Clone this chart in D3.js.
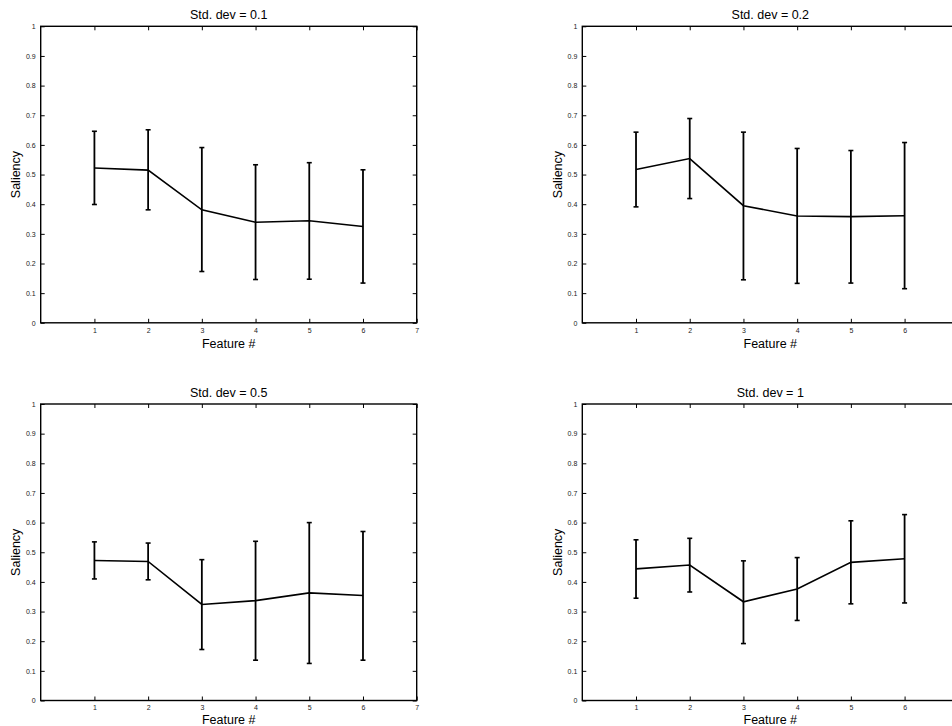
<!DOCTYPE html>
<html>
<head>
<meta charset="utf-8">
<script src="https://cdn.jsdelivr.net/npm/d3@7"></script>
<style>
  body { margin: 0; background: #fff; overflow: hidden; }
  svg { display: block; }
  text { font-family: "Liberation Sans", Arial, Helvetica, sans-serif; }
</style>
</head>
<body>
<div id="chart"></div>
<script>
// features on the x axis
var features = [1, 2, 3, 4, 5, 6];
var xTicks = [1, 2, 3, 4, 5, 6, 7];
var yTicks = [0, 0.1, 0.2, 0.3, 0.4, 0.5, 0.6, 0.7, 0.8, 0.9, 1];

var titles = ["Std. dev = 0.1", "Std. dev = 0.2", "Std. dev = 0.5", "Std. dev = 1"];

// mean saliency, upper and lower error bar ends, one array per panel
var mean01 = [0.522, 0.515, 0.381, 0.339, 0.344, 0.325];
var upper01 = [0.646, 0.651, 0.591, 0.533, 0.540, 0.516];
var lower01 = [0.399, 0.381, 0.173, 0.146, 0.147, 0.134];

var mean02 = [0.517, 0.554, 0.395, 0.360, 0.358, 0.361];
var upper02 = [0.643, 0.689, 0.643, 0.588, 0.581, 0.608];
var lower02 = [0.391, 0.419, 0.145, 0.133, 0.134, 0.115];

var mean05 = [0.472, 0.469, 0.324, 0.337, 0.363, 0.354];
var upper05 = [0.535, 0.531, 0.475, 0.537, 0.600, 0.570];
var lower05 = [0.410, 0.407, 0.172, 0.136, 0.125, 0.136];

var mean1 = [0.444, 0.457, 0.333, 0.376, 0.466, 0.478];
var upper1 = [0.542, 0.547, 0.471, 0.482, 0.606, 0.627];
var lower1 = [0.345, 0.366, 0.192, 0.270, 0.326, 0.329];

var panels = [
  { title: titles[0], mean: mean01, upper: upper01, lower: lower01, left: 40.7, top: 26.3, xlab: 25 },
  { title: titles[1], mean: mean02, upper: upper02, lower: lower02, left: 582.3, top: 26.3, xlab: 25 },
  { title: titles[2], mean: mean05, upper: upper05, lower: lower05, left: 40.7, top: 404, xlab: 23 },
  { title: titles[3], mean: mean1, upper: upper1, lower: lower1, left: 582.3, top: 404, xlab: 23 }
];

var W = 952, H = 726;
var pw = 376, ph = 296.5;

var svg = d3.select("#chart").append("svg")
    .attr("width", W)
    .attr("height", H);

var x = d3.scaleLinear().domain([0, 7]).range([0, pw]);
var y = d3.scaleLinear().domain([0, 1]).range([ph, 0]);

function fmtY(d) {
  return d === 0 ? "0" : d === 1 ? "1" : d.toFixed(1);
}

function drawPanel(p) {
  var g = svg.append("g").attr("transform", "translate(" + p.left + "," + p.top + ")");

  // right-hand panels run off the page, so their "7" label is not visible
  var labelTicks = xTicks.filter(function (d) { return p.left + x(d) < W - 4; });

  // inward ticks on all four sides, labels only bottom and left
  var bottom = g.append("g").attr("transform", "translate(0," + ph + ")")
      .call(d3.axisBottom(x).tickValues(labelTicks).tickSize(-4).tickSizeOuter(0).tickPadding(5).tickFormat(d3.format("d")));
  var left = g.append("g")
      .call(d3.axisLeft(y).tickValues(yTicks).tickSize(-4).tickSizeOuter(0).tickPadding(5).tickFormat(fmtY));
  var top = g.append("g")
      .call(d3.axisTop(x).tickValues(xTicks).tickSize(-4).tickSizeOuter(0).tickFormat(""));
  var right = g.append("g").attr("transform", "translate(" + pw + ",0)")
      .call(d3.axisRight(y).tickValues(yTicks).tickSize(-4).tickSizeOuter(0).tickFormat(""));

  [bottom, left, top, right].forEach(function (a) {
    a.select(".domain").remove();
    a.selectAll(".tick line").attr("stroke", "#000").attr("stroke-width", 1);
    a.selectAll(".tick text")
      .attr("fill", "#222")
      .style("font-size", "7px")
      .style("font-family", "'Liberation Sans', Arial, sans-serif");
  });

  g.append("rect")
    .attr("x", 0).attr("y", 0)
    .attr("width", pw).attr("height", ph)
    .attr("fill", "none")
    .attr("stroke", "#000")
    .attr("stroke-width", 1.4);

  // error bars
  var bars = g.append("g").selectAll("g").data(features).enter().append("g");
  bars.append("line")
    .attr("x1", function (d) { return x(d); })
    .attr("x2", function (d) { return x(d); })
    .attr("y1", function (d, i) { return y(p.upper[i]); })
    .attr("y2", function (d, i) { return y(p.lower[i]); })
    .attr("stroke", "#000").attr("stroke-width", 1.8);
  ["upper", "lower"].forEach(function (k) {
    bars.append("line")
      .attr("x1", function (d) { return x(d) - 2.5; })
      .attr("x2", function (d) { return x(d) + 2.5; })
      .attr("y1", function (d, i) { return y(p[k][i]); })
      .attr("y2", function (d, i) { return y(p[k][i]); })
      .attr("stroke", "#000").attr("stroke-width", 1.6);
  });

  // mean line
  var line = d3.line()
    .x(function (d) { return x(d); })
    .y(function (d, i) { return y(p.mean[i]); });
  g.append("path")
    .datum(features)
    .attr("d", line)
    .attr("fill", "none")
    .attr("stroke", "#000")
    .attr("stroke-width", 1.6);

  g.append("text")
    .attr("x", pw / 2).attr("y", -7.3)
    .attr("text-anchor", "middle")
    .style("font-size", "12.5px")
    .text(p.title);

  g.append("text")
    .attr("x", pw / 2).attr("y", ph + p.xlab)
    .attr("text-anchor", "middle")
    .style("font-size", "12.5px")
    .text("Feature #");

  g.append("text")
    .attr("transform", "translate(-20.5," + (ph / 2) + ") rotate(-90)")
    .attr("text-anchor", "middle")
    .style("font-size", "12.5px")
    .text("Saliency");
}

panels.forEach(drawPanel);
</script>
</body>
</html>
